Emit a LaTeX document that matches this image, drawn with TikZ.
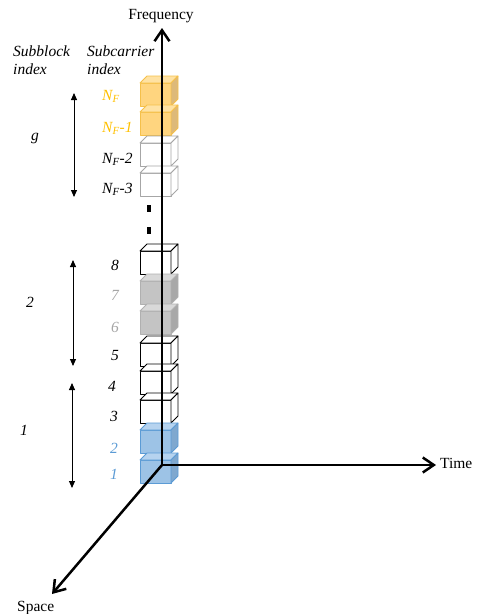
\documentclass[tikz,border=0pt]{standalone}
\usepackage{fontspec}
\setmainfont{Liberation Serif}
\usetikzlibrary{arrows.meta}
\definecolor{ofront}{HTML}{FFD57F}
\definecolor{otop}{HTML}{FFE2A3}
\definecolor{oside}{HTML}{DDB979}
\definecolor{oline}{HTML}{F5C04A}
\definecolor{otext}{HTML}{FFC000}
\definecolor{gfront}{HTML}{C4C4C4}
\definecolor{gtop}{HTML}{D9D9D9}
\definecolor{gside}{HTML}{A8A8A8}
\definecolor{gline}{HTML}{B0B0B0}
\definecolor{gtext}{HTML}{A6A6A6}
\definecolor{bfront}{HTML}{9DC3E6}
\definecolor{btop}{HTML}{B6D3EF}
\definecolor{bside}{HTML}{7FA8CF}
\definecolor{bline}{HTML}{5B9BD5}
\definecolor{btext}{HTML}{5B9BD5}
\newcommand\mycube[5]{%
  \filldraw[draw=#5,fill=#2,line width=0.8pt,line join=round] (140,#1) rectangle (171,{#1+23});
  \filldraw[draw=#5,fill=#3,line width=0.8pt,line join=round] (140,#1) -- (147,{#1-7}) -- (178,{#1-7}) -- (171,#1) -- cycle;
  \filldraw[draw=#5,fill=#4,line width=0.8pt,line join=round] (171,#1) -- (178,{#1-7}) -- (178,{#1+16}) -- (171,{#1+23}) -- cycle;
}
\newcommand\NF[1]{\textit{N}\textsubscript{\textit{F}}\textit{#1}}
\begin{document}
\begin{tikzpicture}[x=1pt,y=-1pt,
  lbl/.style={font=\fontsize{15.5}{18.5}\selectfont, inner sep=0pt, anchor=base west},
  ilbl/.style={font=\fontsize{15.5}{18.5}\selectfont\itshape, inner sep=0pt},
  axis/.style={line width=2.5pt, -{Straight Barb[length=11pt,width=15pt,line width=2.5pt]}},
  span/.style={line width=0.9pt, {Triangle[length=7pt,width=6pt]}-{Triangle[length=7pt,width=6pt]}}]
\useasboundingbox (0,0) rectangle (477,614);
% cubes
\mycube{83}{ofront}{otop}{oside}{oline}
\mycube{112}{ofront}{otop}{oside}{oline}
\mycube{143}{white}{white}{white}{gray!70}
\mycube{173}{white}{white}{white}{gray!70}
\mycube{251}{white}{white}{white}{black}
\mycube{281}{gfront}{gtop}{gside}{gline}
\mycube{311}{gfront}{gtop}{gside}{gline}
\mycube{343}{white}{white}{white}{black}
\mycube{371}{white}{white}{white}{black}
\mycube{400}{white}{white}{white}{black}
\mycube{430}{bfront}{btop}{bside}{bline}
\mycube{460}{bfront}{btop}{bside}{bline}
% dots
\fill (147,204.5) rectangle (151,211.5);
\fill (147,226.5) rectangle (151,233.5);
% axes
\coordinate (O) at (162,465);
\coordinate (Ftip) at (162,28);
\coordinate (Ttip) at (436,465);
\coordinate (Stip) at (52,594);
\draw[axis] (O) -- (Ftip);
\draw[axis] (O) -- (Ttip);
\draw[axis] (O) -- (Stip);
\node[lbl, anchor=base] (freq) at (161,19) {Frequency};
\node[lbl] (time) at (440,468) {Time};
\node[lbl] (space) at (17,611) {Space};
% headers
\node[ilbl, anchor=base west] (sb1) at (13,56) {Subblock};
\node[ilbl, anchor=base west] (sb2) at (13,74) {index};
\node[ilbl, anchor=base west] (sc1) at (87,56) {Subcarrier};
\node[ilbl, anchor=base west] (sc2) at (87,74) {index};
% subcarrier labels
\node[ilbl, anchor=base west, text=otext] (nf0) at (102,100) {\NF{}};
\node[ilbl, anchor=base west, text=otext] (nf1) at (102,132) {\NF{-1}};
\node[ilbl, anchor=base west] (nf2) at (102,163) {\NF{-2}};
\node[ilbl, anchor=base west] (nf3) at (102,193) {\NF{-3}};
\node[ilbl, anchor=base] (c8) at (115,270) {8};
\node[ilbl, anchor=base, text=gtext] (c7) at (115,300) {7};
\node[ilbl, anchor=base, text=gtext] (c6) at (115,332) {6};
\node[ilbl, anchor=base] (c5) at (115,360) {5};
\node[ilbl, anchor=base] (c4) at (112,391) {4};
\node[ilbl, anchor=base] (c3) at (114,421) {3};
\node[ilbl, anchor=base, text=btext] (c2) at (114,453) {2};
\node[ilbl, anchor=base, text=btext] (c1) at (114,479) {1};
% subblock labels
\node[ilbl, anchor=base] (g) at (35,140) {g};
\node[ilbl, anchor=base] (b2) at (30,307) {2};
\node[ilbl, anchor=base] (b1) at (24,435) {1};
% spans
\coordinate (gt) at (74,93); \coordinate (gb) at (74,197);
\coordinate (s2t) at (73,260); \coordinate (s2b) at (73,366);
\coordinate (s1t) at (72,383); \coordinate (s1b) at (72,488);
\draw[span] (gt) -- (gb);
\draw[span] (s2t) -- (s2b);
\draw[span] (s1t) -- (s1b);
\end{tikzpicture}
\end{document}
